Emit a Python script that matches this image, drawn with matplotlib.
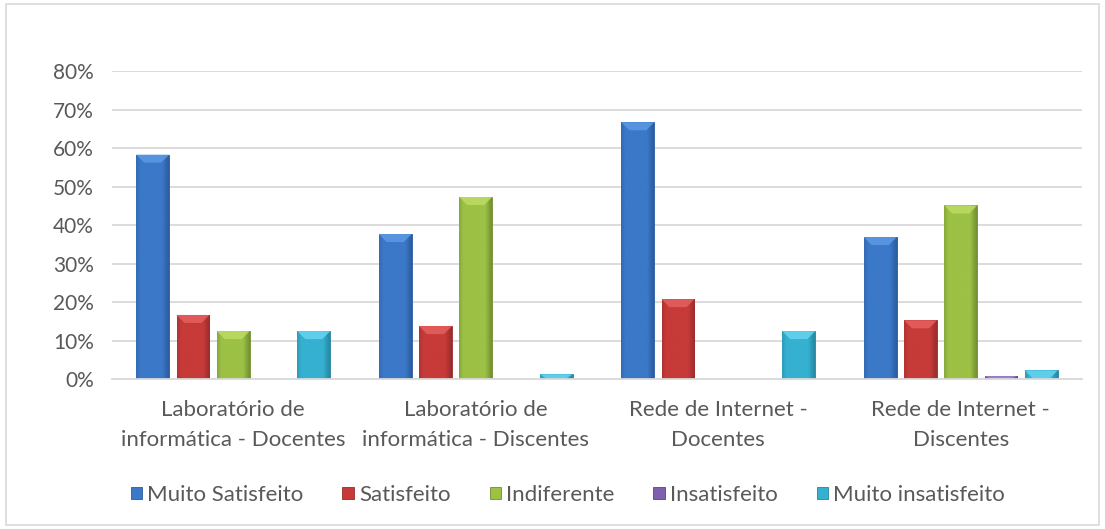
import numpy as np
import matplotlib
matplotlib.use("Agg")
import matplotlib.pyplot as plt
from matplotlib.patches import Rectangle, Polygon
from matplotlib.colors import to_rgb

plt.rcParams["font.family"] = ["Lato", "DejaVu Sans"]

categories = ["Laboratório de\ninformática - Docentes",
              "Laboratório de\ninformática - Discentes",
              "Rede de Internet -\nDocentes",
              "Rede de Internet -\nDiscentes"]
series_names = ["Muito Satisfeito", "Satisfeito", "Indiferente",
                "Insatisfeito", "Muito insatisfeito"]
muito_satisfeito = [58.3, 37.7, 66.7, 36.9]
satisfeito = [16.7, 13.8, 20.8, 15.3]
indiferente = [12.5, 47.3, 0.0, 45.1]
insatisfeito = [0.0, 0.0, 0.0, 0.8]
muito_insatisfeito = [12.5, 1.3, 12.5, 2.3]
yticks = [0, 10, 20, 30, 40, 50, 60, 70, 80]

values = [muito_satisfeito, satisfeito, indiferente, insatisfeito, muito_insatisfeito]
colors = ["#3b78c8", "#c63a38", "#9cc144", "#7f5fb0", "#36b0d0"]
dark = ["#2a5a9c", "#962c2c", "#6e8c30", "#5a4280", "#25849e"]
light = ["#5c9ae4", "#e46060", "#bcdc64", "#a488d0", "#66d4f0"]

W, H = 1105, 529
fig = plt.figure(figsize=(W / 100, H / 100), dpi=100)
fig.add_artist(Rectangle((0.005, 0.008), 0.99, 0.985, transform=fig.transFigure,
                         fill=False, edgecolor="#d9d9d9", linewidth=1.2))
ax = fig.add_axes([112 / W, 1 - 379.3 / H, 970 / W, (379.3 - 71) / H])

x = np.arange(len(categories))
step = 0.166
width = 0.136
ax.set_xlim(-0.5, len(categories) - 0.5)
ax.set_ylim(0, 80)

# pixel sizes -> data units for the bevel
px_x = len(categories) / 970
px_y = 80 / 308.3


def shade(c, d):
    # mild horizontal shading, darker towards the edges (right edge more)
    t = np.linspace(0, 1, 40)
    prof = np.ones_like(t)
    prof[t < 0.12] = 0.55 + 0.45 * t[t < 0.12] / 0.12
    m = t > 0.8
    prof[m] = 1 - 0.9 * (t[m] - 0.8) / 0.2
    c, d = np.array(to_rgb(c)), np.array(to_rgb(d))
    return d[None, :] + (c - d)[None, :] * prof[:, None]


for i, (vals, name) in enumerate(zip(values, series_names)):
    bars = ax.bar(x + (i - 2) * step, vals, width, color=colors[i],
                  edgecolor=dark[i], linewidth=0.6, label=name, zorder=3)
    grad = shade(colors[i], dark[i])[None, :, :]
    for b, v in zip(bars, vals):
        if v <= 0:
            continue
        x0, x1 = b.get_x(), b.get_x() + b.get_width()
        im = ax.imshow(grad, extent=[x0, x1, 0, v], aspect="auto",
                       interpolation="bilinear", zorder=3.5)
        im.set_clip_path(b)
        dy = min(8 * px_y, v)
        dx = 8 * px_x
        ax.add_patch(Polygon([(x0, v), (x1, v), (x1 - dx, v - dy), (x0 + dx, v - dy)],
                             closed=True, facecolor=light[i], edgecolor="none",
                             alpha=0.85, zorder=3.6))

ax.set_yticks(yticks)
ax.set_yticklabels([f"{v}%" for v in yticks])
ax.set_xticks(x)
ax.set_xticklabels(categories, linespacing=1.6, fontsize=16)
ax.grid(axis="y", color="#d9d9d9", linewidth=1.3, zorder=0)
for s in ["top", "right", "left"]:
    ax.spines[s].set_visible(False)
ax.spines["bottom"].set_color("#d9d9d9")
ax.spines["bottom"].set_linewidth(1.3)
ax.spines["bottom"].set_zorder(4)
ax.tick_params(axis="both", length=0, colors="#595959")
ax.tick_params(axis="y", pad=13, labelsize=15)
ax.tick_params(axis="x", pad=15)

ax.legend(loc="center", bbox_to_anchor=(0.47, -0.375), ncol=5, frameon=False,
          fontsize=16, handlelength=0.5, handleheight=0.5, handletextpad=0.25,
          columnspacing=1.75, labelcolor="#595959")

fig.savefig("out.png", dpi=100)
